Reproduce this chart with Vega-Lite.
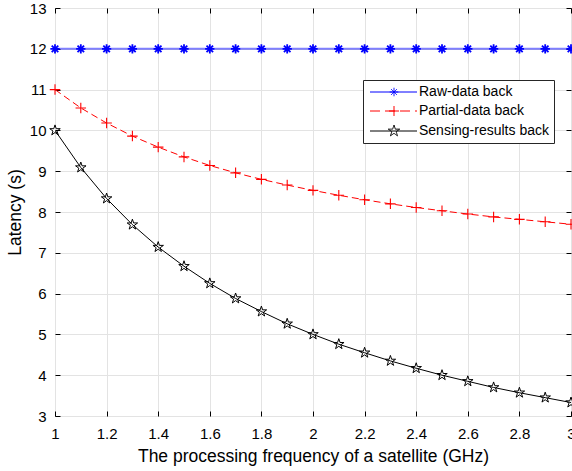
{
  "$schema": "https://vega.github.io/schema/vega-lite/v6.json",
  "width": 516,
  "height": 408,
  "autosize": "none",
  "padding": {"left": 55, "top": 8, "right": 1, "bottom": 55},
  "background": "white",
  "config": {
    "view": {"stroke": "black", "strokeWidth": 1},
    "font": "Liberation Sans",
    "axis": {"labelFont": "Liberation Sans", "titleFont": "Liberation Sans", "labelColor": "black", "titleColor": "black", "tickColor": "black", "titleFontWeight": "normal", "domain": false}
  },
  "data": {"values": [
    {"x": 1.0, "y": 12, "series": "Raw-data back"},
    {"x": 1.1, "y": 12, "series": "Raw-data back"},
    {"x": 1.2, "y": 12, "series": "Raw-data back"},
    {"x": 1.3, "y": 12, "series": "Raw-data back"},
    {"x": 1.4, "y": 12, "series": "Raw-data back"},
    {"x": 1.5, "y": 12, "series": "Raw-data back"},
    {"x": 1.6, "y": 12, "series": "Raw-data back"},
    {"x": 1.7, "y": 12, "series": "Raw-data back"},
    {"x": 1.8, "y": 12, "series": "Raw-data back"},
    {"x": 1.9, "y": 12, "series": "Raw-data back"},
    {"x": 2.0, "y": 12, "series": "Raw-data back"},
    {"x": 2.1, "y": 12, "series": "Raw-data back"},
    {"x": 2.2, "y": 12, "series": "Raw-data back"},
    {"x": 2.3, "y": 12, "series": "Raw-data back"},
    {"x": 2.4, "y": 12, "series": "Raw-data back"},
    {"x": 2.5, "y": 12, "series": "Raw-data back"},
    {"x": 2.6, "y": 12, "series": "Raw-data back"},
    {"x": 2.7, "y": 12, "series": "Raw-data back"},
    {"x": 2.8, "y": 12, "series": "Raw-data back"},
    {"x": 2.9, "y": 12, "series": "Raw-data back"},
    {"x": 3.0, "y": 12, "series": "Raw-data back"},
    {"x": 1.0, "y": 11.0, "series": "Partial-data back"},
    {"x": 1.1, "y": 10.55, "series": "Partial-data back"},
    {"x": 1.2, "y": 10.18, "series": "Partial-data back"},
    {"x": 1.3, "y": 9.86, "series": "Partial-data back"},
    {"x": 1.4, "y": 9.59, "series": "Partial-data back"},
    {"x": 1.5, "y": 9.35, "series": "Partial-data back"},
    {"x": 1.6, "y": 9.14, "series": "Partial-data back"},
    {"x": 1.7, "y": 8.96, "series": "Partial-data back"},
    {"x": 1.8, "y": 8.8, "series": "Partial-data back"},
    {"x": 1.9, "y": 8.66, "series": "Partial-data back"},
    {"x": 2.0, "y": 8.53, "series": "Partial-data back"},
    {"x": 2.1, "y": 8.41, "series": "Partial-data back"},
    {"x": 2.2, "y": 8.3, "series": "Partial-data back"},
    {"x": 2.3, "y": 8.2, "series": "Partial-data back"},
    {"x": 2.4, "y": 8.11, "series": "Partial-data back"},
    {"x": 2.5, "y": 8.03, "series": "Partial-data back"},
    {"x": 2.6, "y": 7.95, "series": "Partial-data back"},
    {"x": 2.7, "y": 7.88, "series": "Partial-data back"},
    {"x": 2.8, "y": 7.82, "series": "Partial-data back"},
    {"x": 2.9, "y": 7.76, "series": "Partial-data back"},
    {"x": 3.0, "y": 7.7, "series": "Partial-data back"},
    {"x": 1.0, "y": 10.0, "series": "Sensing-results back"},
    {"x": 1.1, "y": 9.09, "series": "Sensing-results back"},
    {"x": 1.2, "y": 8.33, "series": "Sensing-results back"},
    {"x": 1.3, "y": 7.69, "series": "Sensing-results back"},
    {"x": 1.4, "y": 7.14, "series": "Sensing-results back"},
    {"x": 1.5, "y": 6.67, "series": "Sensing-results back"},
    {"x": 1.6, "y": 6.25, "series": "Sensing-results back"},
    {"x": 1.7, "y": 5.88, "series": "Sensing-results back"},
    {"x": 1.8, "y": 5.56, "series": "Sensing-results back"},
    {"x": 1.9, "y": 5.26, "series": "Sensing-results back"},
    {"x": 2.0, "y": 5.0, "series": "Sensing-results back"},
    {"x": 2.1, "y": 4.76, "series": "Sensing-results back"},
    {"x": 2.2, "y": 4.55, "series": "Sensing-results back"},
    {"x": 2.3, "y": 4.35, "series": "Sensing-results back"},
    {"x": 2.4, "y": 4.17, "series": "Sensing-results back"},
    {"x": 2.5, "y": 4.0, "series": "Sensing-results back"},
    {"x": 2.6, "y": 3.85, "series": "Sensing-results back"},
    {"x": 2.7, "y": 3.7, "series": "Sensing-results back"},
    {"x": 2.8, "y": 3.57, "series": "Sensing-results back"},
    {"x": 2.9, "y": 3.45, "series": "Sensing-results back"},
    {"x": 3.0, "y": 3.33, "series": "Sensing-results back"}
  ]},
  "encoding": {
    "x": {"field": "x", "type": "quantitative", "scale": {"domain": [1, 3], "nice": false}, "axis": null},
    "y": {"field": "y", "type": "quantitative", "scale": {"domain": [3, 13], "nice": false}, "axis": null},
    "color": {
      "field": "series", "type": "nominal",
      "scale": {"domain": ["Raw-data back", "Partial-data back", "Sensing-results back"], "range": ["#0000ff", "#ff0000", "#000000"]},
      "legend": {
        "orient": "none", "legendX": 308, "legendY": 72, "title": null,
        "padding": 5, "strokeColor": "#262626", "fillColor": "white",
        "labelFont": "Liberation Sans", "labelFontSize": 14, "labelColor": "black",
        "rowPadding": 5, "labelOffset": 37, "symbolSize": 100, "symbolStrokeWidth": 1,
        "encode": {
          "symbols": {"update": {
            "shape": {"signal": "datum.value === 'Raw-data back' ? 'M-1,0L8.4,0M3.8,-0.85L3.8,0.85M2.95,0L4.65,0M3.2,-0.6L4.4,0.6M3.2,0.6L4.4,-0.6' : datum.value === 'Partial-data back' ? 'M-1,0L8.4,0M3.8,-1L3.8,1M2.8,0L4.8,0' : 'M-1,0L8.4,0M3.8,-1.2L4.069,-0.371L4.941,-0.371L4.236,0.142L4.506,0.971L3.8,0.458L3.094,0.971L3.364,0.142L2.659,-0.371L3.531,-0.371Z'"},
            "strokeDash": {"signal": "datum.value === 'Partial-data back' ? [10, 5] : [1, 0]"},
            "strokeWidth": {"value": 1},
            "fill": {"value": "transparent"},
            "opacity": {"value": 1}
          }}
        }
      }
    }
  },
  "layer": [
    {
      "transform": [{"filter": "datum.series === 'Raw-data back'"}],
      "mark": {"type": "line", "clip": true, "strokeWidth": 2, "strokeOpacity": 0.5},
      "encoding": {
        "x": {"field": "x", "type": "quantitative",
          "axis": {"orient": "bottom", "values": [1, 1.2, 1.4, 1.6, 1.8, 2, 2.2, 2.4, 2.6, 2.8, 3], "format": "~g",
            "title": "The processing frequency of a satellite (GHz)", "titleFontSize": 17.5, "titlePadding": 6,
            "labelFontSize": 15, "labelPadding": 15, "tickSize": -5, "grid": true, "gridColor": "#e3e3e3", "labelFlush": false, "labelOverlap": false}},
        "y": {"field": "y", "type": "quantitative",
          "axis": {"orient": "left", "values": [3, 4, 5, 6, 7, 8, 9, 10, 11, 12, 13], "format": "d",
            "title": "Latency (s)", "titleFontSize": 17.5, "titlePadding": 5,
            "labelFontSize": 15, "labelPadding": 14, "tickSize": -5, "grid": true, "gridColor": "#e3e3e3", "labelFlush": false, "labelOverlap": false}}
      }
    },
    {
      "transform": [{"filter": "datum.series === 'Partial-data back'"}],
      "mark": {"type": "line", "clip": true, "strokeWidth": 1, "strokeDash": [7, 4]},
      "encoding": {}
    },
    {
      "transform": [{"filter": "datum.series === 'Sensing-results back'"}],
      "mark": {"type": "line", "clip": true, "strokeWidth": 1},
      "encoding": {}
    },
    {
      "transform": [{"filter": "datum.series === 'Raw-data back'"}],
      "mark": {"type": "point", "filled": false, "size": 120, "strokeWidth": 1.8, "opacity": 1,
        "shape": "M0,-0.85L0,0.85M-0.85,0L0.85,0M-0.6,-0.6L0.6,0.6M-0.6,0.6L0.6,-0.6"},
      "encoding": {
        "x": {"field": "x", "type": "quantitative",
          "axis": {"orient": "top", "values": [1, 1.2, 1.4, 1.6, 1.8, 2, 2.2, 2.4, 2.6, 2.8, 3], "labels": false, "title": null, "tickSize": -5, "grid": false}},
        "y": {"field": "y", "type": "quantitative",
          "axis": {"orient": "right", "values": [3, 4, 5, 6, 7, 8, 9, 10, 11, 12, 13], "labels": false, "title": null, "tickSize": -5, "grid": false}}
      }
    },
    {
      "transform": [{"filter": "datum.series === 'Partial-data back'"}],
      "mark": {"type": "point", "filled": false, "size": 110, "strokeWidth": 1.1, "opacity": 1,
        "shape": "M0,-1L0,1M-1,0L1,0"},
      "encoding": {}
    },
    {
      "transform": [{"filter": "datum.series === 'Sensing-results back'"}],
      "mark": {"type": "point", "filled": false, "size": 110, "strokeWidth": 1, "opacity": 1,
        "shape": "M0,-1.05L0.236,-0.324L0.999,-0.324L0.381,0.124L0.617,0.849L0,0.401L-0.617,0.849L-0.381,0.124L-0.999,-0.324L-0.236,-0.324Z"},
      "encoding": {}
    }
  ],
  "resolve": {"axis": {"x": "independent", "y": "independent"}}
}
